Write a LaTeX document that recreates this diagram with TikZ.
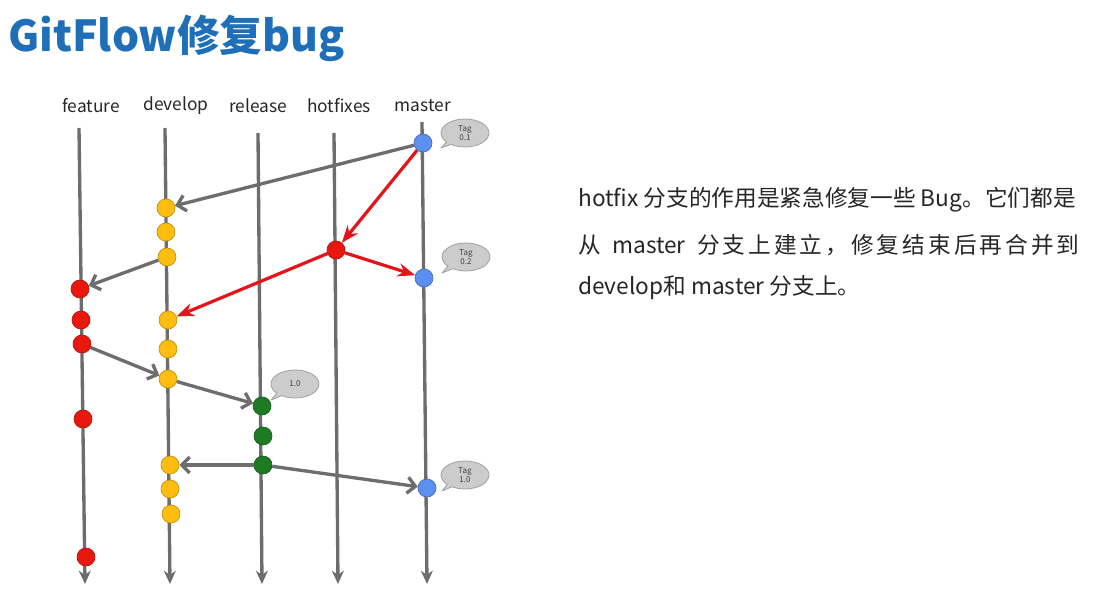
\documentclass[tikz,border=0pt]{standalone}
\usepackage{fontspec}
\setmainfont{Noto Sans CJK SC}
\usetikzlibrary{arrows.meta,shapes.callouts}
\definecolor{gitgray}{HTML}{6D6D6D}
\definecolor{hotred}{HTML}{E3151B}
\definecolor{titleblue}{HTML}{1E6FB8}
\definecolor{cmaster}{HTML}{5B8FF0}
\definecolor{cdevelop}{HTML}{FFBE0F}
\definecolor{cfeature}{HTML}{E8180F}
\definecolor{crelease}{HTML}{1F7A24}
\tikzset{
  branch/.style={gitgray, line width=2.5pt, -{Stealth[length=10pt,width=9pt]}},
  merge/.style={gitgray, line width=2.5pt, -{Straight Barb[length=6pt,width=12pt]}},
  hotmerge/.style={hotred, line width=2.4pt, -{Stealth[length=13pt,width=10pt]}},
  commit/.style={circle, inner sep=0pt, minimum size=13.5pt, draw=#1!75!black, line width=0.5pt, fill=#1},
  tagnote/.style={ellipse callout, draw=gray!75, fill=gray!40, line width=0.6pt,
    minimum width=36pt, minimum height=21pt, inner sep=0pt, align=center,
    font=\fontsize{6}{6.5}\selectfont, text=black!75},
  lbl/.style={font=\fontsize{13}{13}\selectfont, text=black!85}
}
\begin{document}
\begin{tikzpicture}[x=0.75pt, y=-0.75pt, line join=round]
\useasboundingbox (0,0) rectangle (1116,605);
\node[anchor=west, inner sep=0pt, text=titleblue, font=\fontsize{32}{32}\selectfont\bfseries] (title) at (8,38) {GitFlow修复bug};
% branch names
\node[lbl] (lf) at (91,106) {feature};
\node[lbl] (ld) at (176,106) {develop};
\node[lbl] (lr) at (258,106) {release};
\node[lbl] (lh) at (339,106) {hotfixes};
\node[lbl] (lm) at (423,106) {master};
% branch lines
\coordinate (ft) at (79,128);  \coordinate (fb) at (85,584);
\coordinate (dt) at (165,128); \coordinate (db) at (170,584);
\coordinate (rt) at (258,133); \coordinate (rb) at (262,584);
\coordinate (ht) at (334,133); \coordinate (hb) at (338,584);
\coordinate (mt) at (422,122); \coordinate (mb) at (427,584);
\foreach \t/\b in {ft/fb, dt/db, rt/rb, ht/hb, mt/mb}
  \draw[branch] (\t) -- (\b);
% commits
\node[commit=cmaster] (m1) at (423,143) {};
\node[commit=cmaster] (m2) at (424,278) {};
\node[commit=cmaster] (m3) at (427,488) {};
\node[commit=cfeature] (h1) at (336,250) {};
\foreach \n/\x/\y in {d1/166/208, d2/166/232, d3/167/257, d4/168/320, d5/168/349,
                      d6/168/379, d7/170/465, d8/170/489, d9/171/514}
  \node[commit=cdevelop] (\n) at (\x,\y) {};
\foreach \n/\x/\y in {f1/80/289, f2/81/320, f3/82/344, f4/83/419, f5/86/557}
  \node[commit=cfeature] (\n) at (\x,\y) {};
\foreach \n/\x/\y in {r1/262/406, r2/263/436, r3/263/465}
  \node[commit=crelease] (\n) at (\x,\y) {};
% merges
\draw[merge] (m1) -- (d1);
\draw[merge] (d3) -- (f1);
\draw[merge] (f3) -- (d6);
\draw[merge] (d6) -- (r1);
\draw[merge] (r3) -- (d7);
\draw[merge] (r3) -- (m3);
\draw[hotmerge] (m1) -- (h1);
\draw[hotmerge] (h1) -- (m2);
\draw[hotmerge] (h1) -- (d4);
% tags
\node[tagnote, callout absolute pointer={(441,148)}] (t1) at (465,133) {Tag\\0.1};
\node[tagnote, callout absolute pointer={(442,273)}] (t2) at (466,257) {Tag\\0.2};
\node[tagnote, callout absolute pointer={(271,400)}] (t3) at (295,384) {1.0};
\node[tagnote, callout absolute pointer={(442,491)}] (t4) at (465,475) {Tag\\1.0};
% description
\begin{scope}[every node/.style={anchor=west, inner sep=0pt, font=\fontsize{17}{17}\selectfont, text=black!85}]
\node (desca) at (578,200) {hotfix 分支的作用是紧急修复一些 Bug。它们都是};
\node (descb) at (578,245) {\makebox[376pt][s]{从\enspace master\enspace 分\hfil 支\hfil 上\hfil 建\hfil 立\hfil ，\hfil 修\hfil 复\hfil 结\hfil 束\hfil 后\hfil 再\hfil 合\hfil 并\hfil 到}};
\node (descc) at (578,288) {develop和 master 分支上。};
\end{scope}
\end{tikzpicture}
\end{document}
